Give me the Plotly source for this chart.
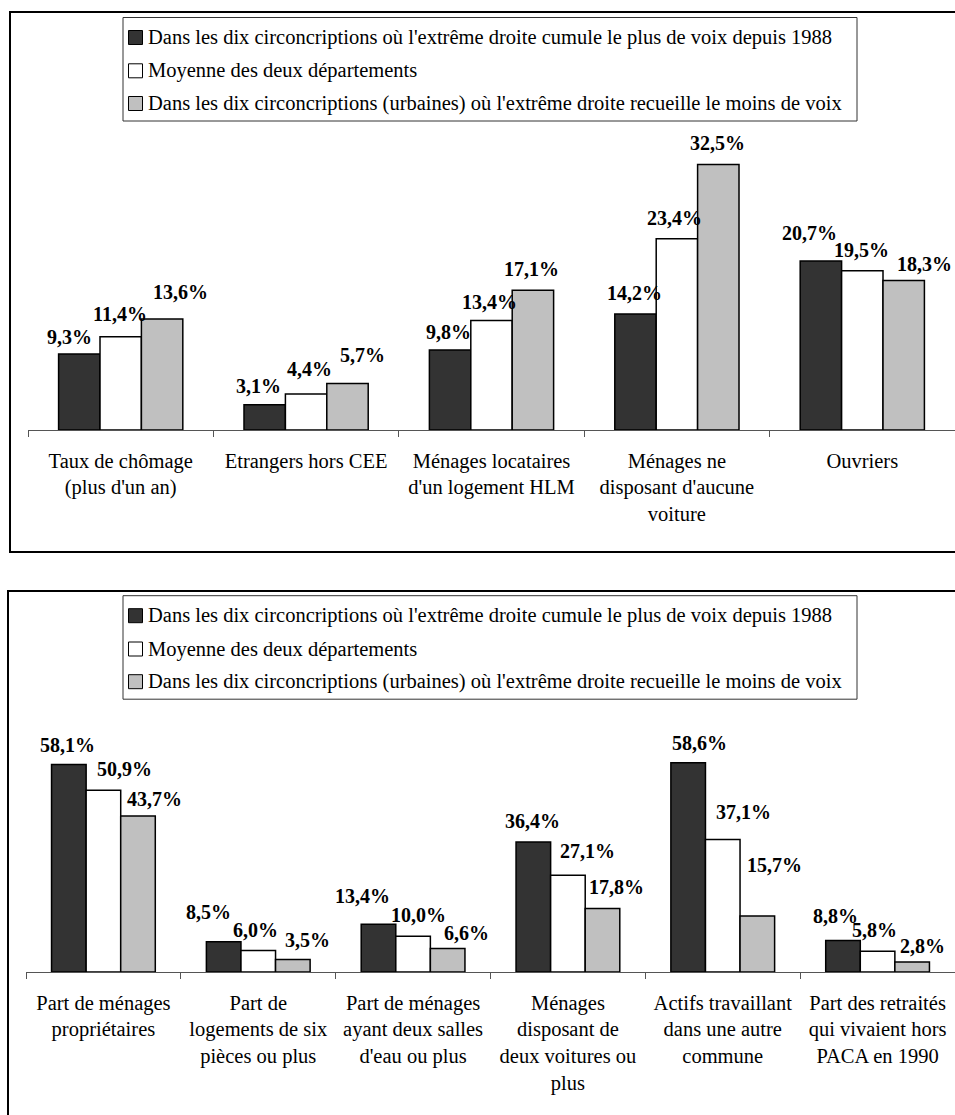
import plotly.graph_objects as go

# ---- data -------------------------------------------------------------
series_names = [
    "Dans les dix circoncriptions où l'extrême droite cumule le plus de voix depuis 1988",
    "Moyenne des deux départements",
    "Dans les dix circoncriptions (urbaines) où l'extrême droite recueille le moins de voix",
]

top_categories = [
    "Taux de chômage<br>(plus d'un an)",
    "Etrangers hors CEE",
    "Ménages locataires<br>d'un logement HLM",
    "Ménages ne<br>disposant d'aucune<br>voiture",
    "Ouvriers",
]
top_extreme = [9.3, 3.1, 9.8, 14.2, 20.7]
top_moyenne = [11.4, 4.4, 13.4, 23.4, 19.5]
top_urbaines = [13.6, 5.7, 17.1, 32.5, 18.3]

bottom_categories = [
    "Part de ménages<br>propriétaires",
    "Part de<br>logements de six<br>pièces ou plus",
    "Part de ménages<br>ayant deux salles<br>d'eau ou plus",
    "Ménages<br>disposant de<br>deux voitures ou<br>plus",
    "Actifs travaillant<br>dans une autre<br>commune",
    "Part des retraités<br>qui vivaient hors<br>PACA en 1990",
]
bottom_extreme = [58.1, 8.5, 13.4, 36.4, 58.6, 8.8]
bottom_moyenne = [50.9, 6.0, 10.0, 27.1, 37.1, 5.8]
bottom_urbaines = [43.7, 3.5, 6.6, 17.8, 15.7, 2.8]

# ---- styling ----------------------------------------------------------
W, H = 955, 1115
FONT = "'Liberation Serif', 'Times New Roman', Times, serif"
FILLS = ["#333333", "#FFFFFF", "#C0C0C0"]
BARGAP = 0.33

# label nudges in pixels (dx, dy) relative to the top centre of each bar
top_label_dx = [[-10, -6, -2, -1, -11], [-1, 3, -2, -2, -1], [18, 15, -1, -1, 21]]
top_label_dy = [[-17, -19, -18, -21, -28], [-23, -25, -19, -21, -21], [-27, -28, -21, -21, -16]]
bottom_label_dx = [[-1, -15, -16, -1, 11, -8], [21, -3, 5, 20, 21, -3], [16, 15, 19, 14, 17, 10]]
bottom_label_dy = [[-20, -30, -28, -21, -20, -25], [-21, -21, -21, -24, -28, -21], [-17, -20, -15, -21, -51, -16]]


def px_x(x):
    return x / W


def px_y(y):
    return 1 - y / H


def fmt(v):
    return f"{v:.1f}".replace(".", ",") + "%"


fig = go.Figure()
annotations = []
shapes = []

panels = [
    dict(cats=top_categories, series=[top_extreme, top_moyenne, top_urbaines],
         xa="x", ya="y", dx=top_label_dx, dy=top_label_dy),
    dict(cats=bottom_categories, series=[bottom_extreme, bottom_moyenne, bottom_urbaines],
         xa="x2", ya="y2", dx=bottom_label_dx, dy=bottom_label_dy),
]

bar_w = (1 - BARGAP) / 3
for p in panels:
    for k, (name, vals) in enumerate(zip(series_names, p["series"])):
        fig.add_trace(go.Bar(
            x=p["cats"], y=vals, name=name, xaxis=p["xa"], yaxis=p["ya"],
            marker=dict(color=FILLS[k], line=dict(color="#000000", width=1.5)),
            showlegend=False, hoverinfo="skip",
        ))
        for i, v in enumerate(vals):
            annotations.append(dict(
                x=i + (k - 1) * bar_w, y=v, xref=p["xa"], yref=p["ya"],
                text="<b>" + fmt(v) + "</b>", showarrow=False,
                xanchor="center", yanchor="middle",
                xshift=p["dx"][k][i], yshift=-p["dy"][k][i],
                font=dict(family=FONT, size=20, color="#000000"),
            ))

# ---- frames and legends ----------------------------------------------
frames = [(10, 12, 1000, 552), (8, 591, 1000, 1200)]
for x0, y0, x1, y1 in frames:
    shapes.append(dict(type="rect", xref="paper", yref="paper",
                       x0=px_x(x0), x1=px_x(x1), y0=px_y(y1), y1=px_y(y0),
                       line=dict(color="#000000", width=2), fillcolor="rgba(0,0,0,0)"))

legend_tops = [17.5, 595.7]
row_offsets = [20.0, 53.3, 86.0]
for top in legend_tops:
    shapes.append(dict(type="rect", xref="paper", yref="paper",
                       x0=px_x(123), x1=px_x(857), y0=px_y(top + 103.5), y1=px_y(top),
                       line=dict(color="#333333", width=1), fillcolor="#FFFFFF"))
    for k, name in enumerate(series_names):
        cy = top + row_offsets[k]
        shapes.append(dict(type="rect", xref="paper", yref="paper",
                           x0=px_x(128.5), x1=px_x(142.5), y0=px_y(cy + 7), y1=px_y(cy - 7),
                           line=dict(color="#000000", width=1), fillcolor=FILLS[k]))
        annotations.append(dict(
            x=px_x(146), y=px_y(cy), xref="paper", yref="paper",
            text=name, showarrow=False, xanchor="left", yanchor="middle",
            font=dict(family=FONT, size=20.5, color="#000000"),
        ))

axis_common = dict(
    showgrid=False, zeroline=False, showline=True, linecolor="#555555", linewidth=1,
    ticks="outside", tickson="boundaries", ticklen=6, tickcolor="#555555",
    ticklabelstandoff=12,
    tickfont=dict(family=FONT, size=20.5, color="#000000"), fixedrange=True,
)
yaxis_common = dict(showgrid=False, zeroline=False, showline=False,
                    showticklabels=False, ticks="", fixedrange=True)

fig.update_layout(
    width=W, height=H, margin=dict(l=0, r=0, t=0, b=0),
    paper_bgcolor="#FFFFFF", plot_bgcolor="#FFFFFF",
    barmode="group", bargap=BARGAP, bargroupgap=0,
    showlegend=False,
    xaxis=dict(domain=[px_x(28), 1.0], anchor="y", **axis_common),
    yaxis=dict(domain=[px_y(430), px_y(130)], range=[0, 300 / 8.17], anchor="x", **yaxis_common),
    xaxis2=dict(domain=[px_x(26), 1.0], anchor="y2", **axis_common),
    yaxis2=dict(domain=[px_y(972), px_y(740)], range=[0, 232 / 3.57], anchor="x2", **yaxis_common),
    annotations=annotations, shapes=shapes,
    font=dict(family=FONT),
)

fig.write_html("out.html")
